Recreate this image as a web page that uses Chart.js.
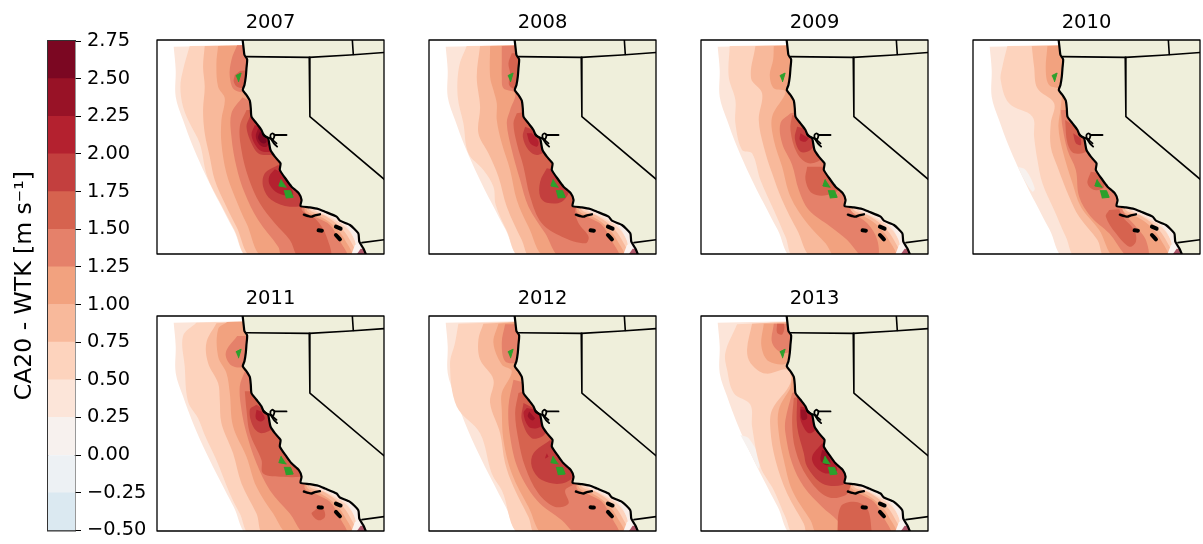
<!DOCTYPE html>
<html>
<head>
<meta charset="utf-8">
<script src="https://cdn.jsdelivr.net/npm/chart.js@4/dist/chart.umd.min.js"></script>
<style>
  body { margin: 0; background: #fff; overflow: hidden; }
  canvas { position: absolute; }
</style>
</head>
<body>
<canvas id="bar" width="160" height="548" style="left:0;top:0"></canvas>
<script>
// colour bar
const barEdges = [-0.5, -0.25, 0, 0.25, 0.5, 0.75, 1, 1.25, 1.5, 1.75, 2, 2.25, 2.5, 2.75];
const levelColors = ['#dbe9f1', '#edf1f4', '#f7f1ee', '#fce5d9', '#fdd3bd', '#f8b99b', '#f2a27f', '#e5816a',
  '#d6634f', '#c33f3e', '#b4212f', '#981226', '#7b0722'];
const years = ['2007', '2008', '2009', '2010', '2011', '2012', '2013'];

// map outlines, every point is [x, y] in map units
const coast = [[278,85],[282,120],[284,135],[292,148],[290,175],[288,200],[284,225],[279,240],[290,255],[300,272],[303,295],
  [305,320],[320,340],[335,360],[342,376],[355,385],[358,400],[362,420],[375,440],[392,460],[390,480],[410,510],[425,530],
  [447,550],[455,570],[452,588],[480,592],[505,597],[525,605],[560,620],[570,632],[600,645],[625,670],[628,695],[640,715],[650,738]];
const landEast = [[760,738],[760,80],[278,80]];
const borderNorth = [[290,140],[478,142],[600,135],[710,127]];
const borderIdaho = [[607,88],[610,133]];
const borderNevada = [[478,142],[480,320],[710,514]];
const borderMexico = [[636,698],[710,688]];
const bayLines = [
  [[340,372],[352,382],[363,385]],
  [[362,385],[362,375],[368,370],[374,375],[370,388],[362,385]],
  [[374,375],[410,375]],
  [[362,385],[372,400],[382,410]],
  [[368,390],[380,400]]
];
const islands = [
  [[462,614],[475,618],[485,620],[495,616],[510,613]],
  [[506,661],[516,662]],
  [[558,650],[572,656]],
  [[558,675],[570,688]]
];
const greenAreas = [
  [[258,197],[274,189],[270,203],[266,216]],
  [[394,508],[387,528],[410,532]],
  [[402,542],[422,542],[430,562],[408,564]]
];
const domain = [[72,110],[78,180],[78,260],[100,330],[130,410],[170,500],[210,580],[252,660],[300,745],[660,745],[500,500],[320,105]];
const coastFringe = [[490,594],[540,616],[590,648],[614,690],[628,745],[670,745],[640,620],[500,570]];
const tipWhite = [[600,745],[615,705],[632,698],[660,745]];
const tipDark = [[612,745],[632,716],[645,716],[660,745]];

// eastern ends of the wider bands, running back north under the land
const tail4 = [[630,745],[612,685],[585,650],[540,622],[490,597],[470,560],[350,300],[320,106]];
const tail5 = [[618,745],[600,690],[570,650],[525,617],[480,600],[470,560],[350,300],[320,106]];
const tail6 = [[605,745],[582,685],[555,650],[515,622],[472,603],[470,560],[350,300],[320,106]];
const tail7 = [[590,745],[565,685],[540,645],[505,625],[465,605],[470,560],[350,300]];

// contour bands per year: [level, outline]
const bands2007 = [
  [3, domain],
  [4, [[120,108],[100,180],[92,230],[100,290],[120,340],[150,400],[172,498],[212,580],[254,660],[300,745], ...tail4]],
  [5, [[165,108],[160,170],[165,230],[160,300],[165,370],[180,440],[195,510],[225,580],[260,650],[312,745], ...tail5]],
  [6, [[205,108],[200,160],[205,230],[225,265],[215,330],[215,400],[230,490],[255,560],[290,640],[345,745], ...tail6]],
  [7, [[262,106],[245,150],[240,200],[255,240],[300,240],[300,106]]],
  [8, [[255,195],[252,215],[265,232],[300,230],[295,185],[272,182]]],
  [7, [[278,262],[245,310],[245,380],[260,470],[285,550],[325,630],[385,710],[400,745], ...tail7]],
  [8, [[290,300],[270,350],[275,420],[295,500],[330,580],[375,640],[420,690],[450,745],[540,745],[530,680],[500,630],[455,598],[480,560],[350,300]]],
  [9, [[300,320],[290,350],[305,400],[325,430],[355,435],[400,430],[340,330]]],
  [9, [[385,465],[345,490],[340,530],[365,570],[420,590],[470,580],[440,520]]],
  [10, [[315,345],[305,375],[320,410],[340,425],[370,420],[345,360]]],
  [10, [[375,478],[358,500],[360,525],[385,550],[430,555],[400,490]]],
  [11, [[325,355],[318,380],[330,405],[350,410],[360,385],[340,365]]],
  [12, [[330,365],[325,385],[338,400],[350,395],[345,375]]]
];
const bands2008 = [
  [3, domain],
  [4, [[135,108],[112,170],[108,260],[125,340],[140,430],[185,480],[215,530],[222,585],[254,660],[300,745], ...tail4]],
  [5, [[175,108],[165,200],[175,290],[170,370],[200,430],[230,500],[255,590],[300,690],[330,745], ...tail5]],
  [6, [[205,108],[205,200],[215,240],[225,280],[225,330],[240,400],[265,480],[285,570],[320,650],[375,745], ...tail6]],
  [7, [[240,108],[240,160],[240,200],[245,235],[280,250],[265,300],[255,340],[270,420],[295,510],[320,590],[370,670],[420,745], ...tail7, [320,106]]],
  [8, [[270,130],[260,160],[265,190],[262,225],[280,235],[300,130]]],
  [8, [[285,310],[275,340],[285,400],[305,470],[325,560],[360,640],[420,680],[490,700],[500,680],[470,640],[460,600],[480,560],[350,300]]],
  [9, [[310,350],[303,380],[320,420],[345,435],[370,420],[335,360]]],
  [9, [[375,475],[355,515],[355,560],[375,578],[420,575],[440,540],[400,480]]],
  [10, [[315,370],[325,400],[345,410],[350,395],[330,370]]]
];
const bands2009 = [
  [3, domain],
  [4, [[108,108],[105,200],[125,270],[125,340],[145,420],[175,430],[200,510],[240,600],[275,680],[305,745], ...tail4]],
  [5, [[185,108],[172,205],[205,250],[195,330],[210,410],[235,490],[265,570],[310,660],[360,745], ...tail5]],
  [6, [[240,108],[238,150],[228,195],[240,235],[275,245],[235,320],[240,390],[265,470],[290,560],[340,640],[395,700],[430,745], ...tail6]],
  [7, [[290,310],[260,340],[265,400],[295,465],[315,540],[345,600],[410,650],[460,690],[510,745],[550,745],[550,690],[520,640],[470,600],[470,560],[350,300]]],
  [8, [[295,315],[290,360],[310,430],[345,460],[385,440],[340,330]]],
  [8, [[340,470],[335,510],[355,550],[400,555],[440,530],[400,470]]],
  [9, [[310,350],[303,385],[320,425],[350,420],[365,390],[330,355]]],
  [10, [[320,370],[318,390],[335,395],[345,385]]]
];
const bands2010 = [
  [3, domain],
  [2, [[157,470],[180,480],[207,535],[200,545],[170,500]]],
  [4, [[125,108],[110,170],[105,210],[130,280],[200,320],[205,380],[215,450],[230,520],[265,600],[300,680],[335,745], ...tail4]],
  [5, [[198,108],[205,170],[215,235],[265,280],[255,340],[255,410],[275,470],[310,560],[340,620],[395,690],[420,745], ...tail5]],
  [6, [[245,108],[240,180],[250,225],[285,240],[285,290],[278,350],[290,420],[320,520],[345,590],[400,660],[450,745], ...tail6]],
  [7, [[285,300],[290,350],[305,420],[330,480],[340,560],[375,620],[430,670],[490,745],[545,745],[540,690],[510,650],[470,600],[470,560],[350,300]]],
  [8, [[298,330],[305,400],[325,430],[365,420],[345,360]]],
  [8, [[375,485],[365,520],[385,540],[415,530],[400,490]]],
  [8, [[430,600],[420,620],[450,670],[490,710],[510,695],[505,660],[470,620],[460,598]]],
  [9, [[322,370],[330,400],[345,405],[345,385]]]
];
const bands2011 = [
  [3, domain],
  [4, [[140,110],[100,150],[105,240],[115,345],[145,395],[165,445],[200,520],[240,620],[270,680],[305,745], ...tail4]],
  [5, [[200,112],[170,170],[175,230],[205,290],[210,340],[215,410],[250,500],[275,590],[320,680],[345,745], ...tail5]],
  [6, [[232,108],[205,130],[205,210],[230,260],[240,320],[250,420],[290,510],[320,600],[370,680],[420,745], ...tail6]],
  [7, [[262,150],[228,200],[245,238],[285,238],[300,150]]],
  [7, [[285,255],[270,300],[275,370],[290,440],[320,530],[360,610],[420,680],[470,745], ...tail7]],
  [8, [[285,315],[290,370],[300,440],[335,520],[340,560],[400,570],[450,570],[480,560],[350,315]]],
  [8, [[495,670],[485,680],[505,700],[525,690],[520,665],[505,660]]],
  [9, [[320,355],[300,370],[310,420],[335,440],[370,420],[345,370]]],
  [10, [[320,370],[318,395],[332,405],[345,395],[335,375]]]
];
const bands2012 = [
  [3, domain],
  [4, [[110,113],[100,170],[85,235],[105,360],[175,440],[210,560],[240,610],[300,745], ...tail4]],
  [5, [[185,113],[170,160],[175,220],[215,280],[205,350],[235,440],[250,530],[275,600],[320,690],[345,745], ...tail5]],
  [6, [[230,113],[215,170],[240,235],[270,255],[240,320],[240,370],[245,460],[270,560],[320,660],[370,745], ...tail6]],
  [7, [[250,115],[240,170],[250,225],[285,225],[295,115]]],
  [7, [[275,280],[260,360],[265,450],[290,550],[345,640],[420,700],[470,745], ...tail7]],
  [8, [[290,320],[280,380],[290,460],[310,540],[350,620],[400,660],[440,650],[430,610],[460,590],[480,560],[350,300]]],
  [9, [[305,350],[300,400],[330,455],[370,440],[345,370]]],
  [9, [[385,460],[335,500],[330,540],[360,580],[420,590],[460,560],[420,500]]],
  [10, [[315,365],[305,380],[320,420],[345,425],[365,410],[340,370]]],
  [10, [[375,500],[370,515],[380,510]]],
  [11, [[322,375],[318,390],[332,402],[340,395]]]
];
const bands2013 = [
  [3, domain],
  [2, [[140,445],[165,455],[195,510],[195,545],[170,500]]],
  [4, [[130,115],[95,200],[100,250],[120,320],[170,355],[175,420],[200,540],[240,610],[275,690],[305,745], ...tail4]],
  [5, [[175,113],[160,190],[170,230],[215,262],[280,250],[290,290],[235,370],[230,430],[245,520],[280,620],[330,710],[345,745], ...tail5]],
  [6, [[210,113],[203,180],[225,225],[280,228],[295,113]]],
  [6, [[290,305],[255,370],[255,440],[270,520],[295,610],[350,700],[375,745], ...tail6]],
  [7, [[240,113],[235,170],[265,200],[295,190],[295,113]]],
  [8, [[250,113],[250,140],[265,145],[272,125],[270,113]]],
  [7, [[295,320],[275,400],[275,440],[295,530],[330,600],[385,660],[430,700],[460,745], ...tail7]],
  [8, [[300,335],[295,410],[305,490],[340,570],[400,630],[455,625],[470,598],[480,560],[350,320]]],
  [8, [[430,745],[440,660],[480,645],[520,665],[535,745]]],
  [9, [[310,335],[310,420],[330,500],[340,540],[385,590],[445,595],[460,570],[450,540],[350,340]]],
  [10, [[320,360],[320,400],[345,440],[370,420],[345,365]]],
  [10, [[385,470],[355,510],[365,540],[395,560],[430,550],[395,470]]],
  [11, [[385,490],[380,520],[395,535],[410,530],[400,495]]],
  [11, [[320,370],[325,400],[340,395],[335,370]]]
];
const bandsByYear = [bands2007, bands2008, bands2009, bands2010, bands2011, bands2012, bands2013];

const panelLefts = [157, 429, 701, 973, 157, 429, 701];
const panelTops = [40, 40, 40, 40, 316, 316, 316];
const fontName = '"DejaVu Sans"';

function area(points, color, tension) {
  return { data: points, fill: 'shape', backgroundColor: color, borderWidth: 0, borderColor: color, pointRadius: 0, tension: tension };
}
function stroke(points, width) {
  return { data: points, fill: false, borderColor: '#000', borderWidth: width, pointRadius: 0, tension: 0.2,
    borderCapStyle: 'round', borderJoinStyle: 'round' };
}

function drawPanel(i) {
  const canvas = document.createElement('canvas');
  const h = i > 3 ? 215 : 214;
  canvas.width = 247;
  canvas.height = 34 + h + 6;
  canvas.style.left = (panelLefts[i] - 10) + 'px';
  canvas.style.top = (panelTops[i] - 34) + 'px';
  document.body.appendChild(canvas);

  const sets = [];
  bandsByYear[i].forEach(b => sets.push(area(b[1], levelColors[b[0]], 0.35)));
  sets.push(area(coastFringe, '#f9eee9', 0.3));
  sets.push(area(tipWhite, '#fbf3f0', 0));
  sets.push(area(tipDark, '#b0586a', 0));
  sets.push(area(coast.concat(landEast), '#efefdb', 0.15));
  [borderNorth, borderIdaho, borderNevada, borderMexico].forEach(b => {
    const s = stroke(b, 1.6);
    s.tension = 0;
    sets.push(s);
  });
  sets.push(stroke(coast, 2.2));
  bayLines.forEach(b => sets.push(stroke(b, 1.8)));
  sets.push(stroke(islands[0], 2.4));
  islands.slice(1).forEach(b => sets.push(stroke(b, 4)));
  greenAreas.forEach(g => {
    const s = area(g, '#2ca02c', 0);
    s.borderWidth = 1;
    sets.push(s);
  });
  const frame = stroke([[22,90],[702,90],[702,732],[22,732],[22,90]], 1.3);
  frame.tension = 0;
  frame.clip = false;
  sets.push(frame);
  sets.reverse();  // first dataset is painted last

  new Chart(canvas, {
    type: 'line',
    data: { datasets: sets },
    options: {
      responsive: false,
      animation: false,
      events: [],
      layout: { padding: { left: 10, right: 10, top: 0, bottom: 6 } },
      plugins: {
        legend: { display: false },
        tooltip: { enabled: false },
        title: {
          display: true, text: years[i], color: '#000',
          font: { family: fontName, size: 19.5, weight: 'normal', lineHeight: 1 },
          padding: { top: 7, bottom: 7.5 }
        }
      },
      scales: {
        x: { type: 'linear', display: false, min: 22, max: 702 },
        y: { type: 'linear', display: false, min: 90, max: 732, reverse: true }
      }
    }
  });
}
years.forEach((y, i) => drawPanel(i));

// colour bar with its own axes
const barSets = levelColors.map((c, i) => ({
  data: [[barEdges[i], barEdges[i + 1]]],
  backgroundColor: c,
  borderWidth: 0,
  barPercentage: 1,
  categoryPercentage: 1
}));
const edgeColor = '#333';
new Chart(document.getElementById('bar'), {
  type: 'bar',
  data: { labels: [''], datasets: barSets },
  options: {
    responsive: false,
    animation: false,
    events: [],
    layout: { padding: { top: 33, bottom: 2 } },
    plugins: { legend: { display: false }, tooltip: { enabled: false } },
    scales: {
      x: { stacked: true, ticks: { display: false }, grid: { display: false }, border: { color: edgeColor, width: 1.5 } },
      xTop: { position: 'top', ticks: { display: false }, grid: { display: false }, border: { color: edgeColor, width: 1.5 } },
      y: {
        position: 'right', min: -0.5, max: 2.75,
        afterBuildTicks: s => { s.ticks = barEdges.map(v => ({ value: v })); },
        afterFit: s => { s.width = 85; },
        ticks: {
          autoSkip: false, color: '#000', padding: 6,
          font: { family: fontName, size: 19.4 },
          callback: v => v.toFixed(2).replace('-', '\u2212')
        },
        grid: { drawOnChartArea: false, tickLength: 6, tickColor: '#000', tickWidth: 1 },
        border: { color: edgeColor, width: 1.5 }
      },
      yLeft: {
        position: 'left', min: -0.5, max: 2.75,
        afterFit: s => { s.width = 48; },
        ticks: { display: false },
        grid: { display: false },
        border: { color: edgeColor, width: 1.5 },
        title: {
          display: true, text: 'CA20 - WTK [m s\u207B\u00B9]', color: '#000',
          font: { family: fontName, size: 23.5 }, padding: { top: 11, bottom: 0 }
        }
      }
    }
  }
});
</script>
</body>
</html>
